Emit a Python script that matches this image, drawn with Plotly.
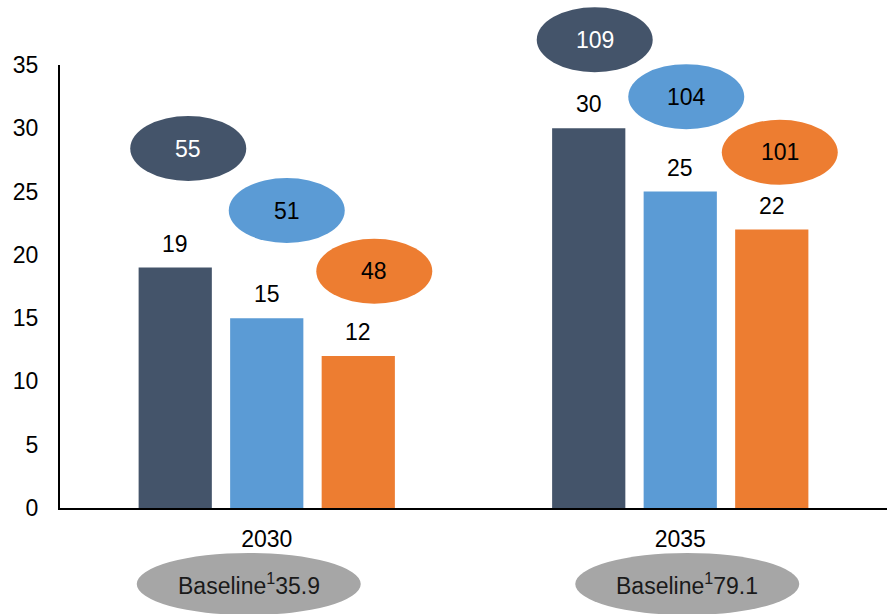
import plotly.graph_objects as go

# Data
years = ["2030", "2035"]
series_names = ["Scenario A", "Scenario B", "Scenario C"]
bar_values = [
    [19, 30],   # Scenario A
    [15, 25],   # Scenario B
    [12, 22],   # Scenario C
]
bubble_values = [
    [55, 109],
    [51, 104],
    [48, 101],
]
baseline_values = [35.9, 79.1]

colors = ["#44546A", "#5B9BD5", "#ED7D31"]
bubble_text_colors = ["#FFFFFF", "#000000", "#000000"]

# Layout geometry (pixels)
W, H = 887, 614
M_L, M_R, M_T, M_B = 60, 0, 65, 106
PLOT_W = W - M_L - M_R
PLOT_H = H - M_T - M_B
Y_MAX = 35
BARGAP = 0.336
GROUPGAP = 0.2

FONT = "Liberation Sans, Arial, sans-serif"
FS = 23

fig = go.Figure()
for j, name in enumerate(series_names):
    fig.add_trace(go.Bar(
        x=years, y=bar_values[j], name=name,
        marker=dict(color=colors[j], line=dict(width=0)),
    ))

n_series = len(series_names)
slot = (1 - BARGAP) / n_series  # category-axis units per bar slot


def x_paper(cat_idx, series_idx, shift_px=0.0):
    """Paper x of a bar centre in the grouped layout, plus a pixel shift."""
    xc = cat_idx + (series_idx - (n_series - 1) / 2) * slot
    return (xc + 0.5) / len(years) + shift_px / PLOT_W


def y_paper(val):
    return val / Y_MAX


def label(x, y, text, color="#000000", yshift=0):
    return dict(
        x=x, y=y, xref="paper", yref="paper", text=text, showarrow=False,
        xanchor="center", yanchor="middle", yshift=yshift,
        font=dict(size=FS, color=color, family=FONT),
    )


annotations = []
shapes = []

# Value labels above bars
for j in range(n_series):
    for i in range(len(years)):
        v = bar_values[j][i]
        annotations.append(label(x_paper(i, j), y_paper(v), str(v), yshift=24))

# Bubbles with totals, stepped above each group
bubble_levels = [[28.4, 23.5, 18.7], [37.0, 32.5, 28.1]]
bubble_shift = [[13, 20, 16], [6, 6, 8]]
BW, BH = 116, 65
for i in range(len(years)):
    for j in range(n_series):
        cx = x_paper(i, j, bubble_shift[i][j])
        cy = y_paper(bubble_levels[i][j])
        dx = BW / 2 / PLOT_W
        dy = BH / 2 / PLOT_H
        shapes.append(dict(
            type="circle", xref="paper", yref="paper",
            x0=cx - dx, x1=cx + dx, y0=cy - dy, y1=cy + dy,
            fillcolor=colors[j], line=dict(width=0), layer="above",
        ))
        annotations.append(label(cx, cy, str(bubble_values[j][i]),
                                 color=bubble_text_colors[j]))

# Baseline ellipses under the category labels
base_shift = [-18, 7]
GW, GH = 224, 62
for i in range(len(years)):
    cx = (i + 0.5) / len(years) + base_shift[i] / PLOT_W
    cy = -76 / PLOT_H
    dx = GW / 2 / PLOT_W
    dy = GH / 2 / PLOT_H
    shapes.append(dict(
        type="circle", xref="paper", yref="paper",
        x0=cx - dx, x1=cx + dx, y0=cy - dy, y1=cy + dy,
        fillcolor="#A6A6A6", line=dict(width=0), layer="above",
    ))
    annotations.append(label(
        cx, cy, f"Baseline<sup>1</sup>{baseline_values[i]}", color="#1A1A1A"))

fig.update_layout(
    width=W, height=H,
    margin=dict(l=M_L, r=M_R, t=M_T, b=M_B, pad=0),
    paper_bgcolor="#FFFFFF", plot_bgcolor="#FFFFFF",
    barmode="group", bargap=BARGAP, bargroupgap=GROUPGAP,
    showlegend=False,
    font=dict(family=FONT, size=FS, color="#000000"),
    xaxis=dict(
        type="category", range=[-0.5, 1.5],
        showline=True, linecolor="#000000", linewidth=2,
        showgrid=False, zeroline=False, ticks="",
        ticklabelstandoff=9,
        tickfont=dict(size=FS, color="#000000", family=FONT),
    ),
    yaxis=dict(
        range=[0, Y_MAX], tickvals=[0, 5, 10, 15, 20, 25, 30, 35],
        showline=True, linecolor="#000000", linewidth=2,
        showgrid=False, zeroline=False, ticks="",
        ticklabelstandoff=15,
        tickfont=dict(size=FS, color="#000000", family=FONT),
    ),
    shapes=shapes,
    annotations=annotations,
)

fig.write_html("out.html")
